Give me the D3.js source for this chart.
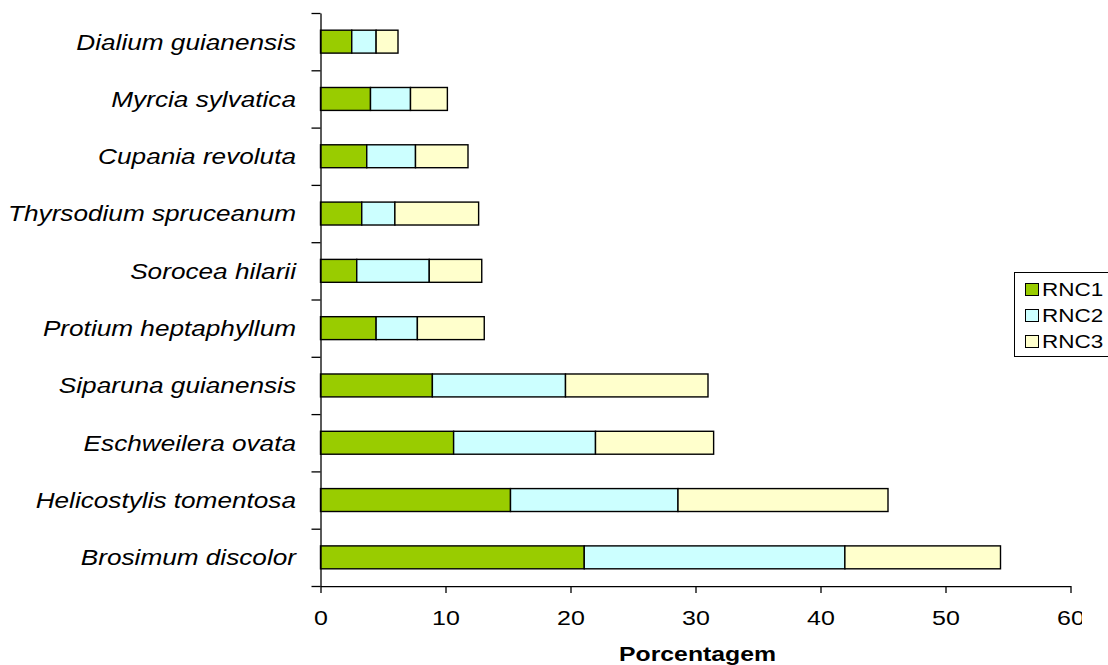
<!DOCTYPE html>
<html>
<head>
<meta charset="utf-8">
<script src="https://cdn.jsdelivr.net/npm/d3@7"></script>
<style>
  html, body { margin: 0; padding: 0; background: #fff; }
  svg { display: block; font-family: "Liberation Sans", Arial, sans-serif; }
</style>
</head>
<body>
<svg id="chart" width="1108" height="665"></svg>
<script>
const categories = [
  "Dialium guianensis", "Myrcia sylvatica", "Cupania revoluta", "Thyrsodium spruceanum",
  "Sorocea hilarii", "Protium heptaphyllum", "Siparuna guianensis", "Eschweilera ovata",
  "Helicostylis tomentosa", "Brosimum discolor"
];
const seriesNames = ["RNC1", "RNC2", "RNC3"];
const rnc1 = [2.5, 4.0, 3.7, 3.3, 2.9, 4.45, 8.95, 10.65, 15.2, 21.1];
const rnc2 = [1.95, 3.2, 3.9, 2.65, 5.8, 3.3, 10.65, 11.35, 13.4, 20.85];
const rnc3 = [1.75, 2.95, 4.2, 6.7, 4.2, 5.35, 11.4, 9.45, 16.8, 12.45];
const xTicks = [0, 10, 20, 30, 40, 50, 60];
const colors = ["#99CC00", "#CCFFFF", "#FFFFCC"];
const xTitle = "Porcentagem";

const rows = categories.map((c, i) => ({ cat: c, RNC1: rnc1[i], RNC2: rnc2[i], RNC3: rnc3[i] }));
const stacked = d3.stack().keys(seriesNames)(rows);

const svg = d3.select("#chart");
const mLeft = 320.5, mRight = 1070.5, mTop = 13, mBottom = 586;
const SX = 1.25; // horizontal text stretch seen in the reference

const x = d3.scaleLinear().domain([0, 60]).range([mLeft, mRight]);
const y = d3.scaleBand().domain(categories).range([mTop, mBottom]).paddingInner(0.6).paddingOuter(0.3);
const yIdx = d3.scaleLinear().domain([0, categories.length]).range([mTop, mBottom]);

const defs = svg.append("defs");
defs.append("clipPath").attr("id", "clipR").append("rect")
  .attr("x", 0).attr("y", 0).attr("width", 1082).attr("height", 665);

// bars
svg.append("g").selectAll("g").data(stacked).join("g")
  .attr("fill", (d, i) => colors[i])
  .selectAll("rect").data(d => d).join("rect")
  .attr("x", d => x(d[0]))
  .attr("y", d => y(d.data.cat))
  .attr("width", d => x(d[1]) - x(d[0]))
  .attr("height", y.bandwidth())
  .attr("stroke", "#000")
  .attr("stroke-width", 1.4);

// y axis
const gy = svg.append("g").attr("transform", `translate(${mLeft},0)`)
  .call(d3.axisLeft(yIdx).tickValues(d3.range(categories.length + 1)).tickFormat("").tickSize(9).tickSizeOuter(0));
gy.select(".domain").attr("stroke", "#000").attr("stroke-width", 1.3);
gy.selectAll(".tick line").attr("stroke", "#000").attr("stroke-width", 1.3);

// category labels
svg.append("g").selectAll("text").data(categories).join("text")
  .attr("transform", d => `translate(296,${y(d) + y.bandwidth() / 2}) scale(1.19,1)`)
  .attr("text-anchor", "end")
  .attr("dy", "0.36em")
  .attr("font-size", 22)
  .attr("font-style", "italic")
  .attr("fill", "#000")
  .text(d => d);

// x axis
const gx = svg.append("g").attr("transform", `translate(0,${mBottom})`).attr("clip-path", "url(#clipR)")
  .call(d3.axisBottom(x).tickValues(xTicks).tickSize(7).tickSizeOuter(0).tickPadding(18));
gx.select(".domain").attr("stroke", "#000").attr("stroke-width", 1.3);
gx.selectAll(".tick line").attr("stroke", "#000").attr("stroke-width", 1.3);
gx.selectAll(".tick text")
  .attr("font-size", 20)
  .attr("font-family", "Liberation Sans, Arial, sans-serif")
  .attr("fill", "#000")
  .attr("dy", "0.71em")
  .attr("transform", `scale(${SX},1)`)
  .attr("x", 0);

// x title
svg.append("text")
  .attr("transform", `translate(${(mLeft + mRight) / 2 + 2},661) scale(1.18,1)`)
  .attr("text-anchor", "middle")
  .attr("font-size", 21)
  .attr("font-weight", "bold")
  .attr("fill", "#000")
  .text(xTitle);

// legend
const lg = svg.append("g");
lg.append("rect").attr("x", 1014.5).attr("y", 272.5).attr("width", 100).attr("height", 84)
  .attr("fill", "#fff").attr("stroke", "#000").attr("stroke-width", 1);
const li = lg.selectAll("g").data(seriesNames).join("g")
  .attr("transform", (d, i) => `translate(1025,${283 + i * 26})`);
li.append("rect").attr("x", 0.5).attr("y", 0.5).attr("width", 13).attr("height", 12)
  .attr("fill", (d, i) => colors[i]).attr("stroke", "#000").attr("stroke-width", 1);
li.append("text")
  .attr("transform", `translate(17,6.5) scale(${SX},1)`)
  .attr("dy", "0.36em")
  .attr("font-size", 18)
  .attr("fill", "#000")
  .text(d => d);
</script>
</body>
</html>
